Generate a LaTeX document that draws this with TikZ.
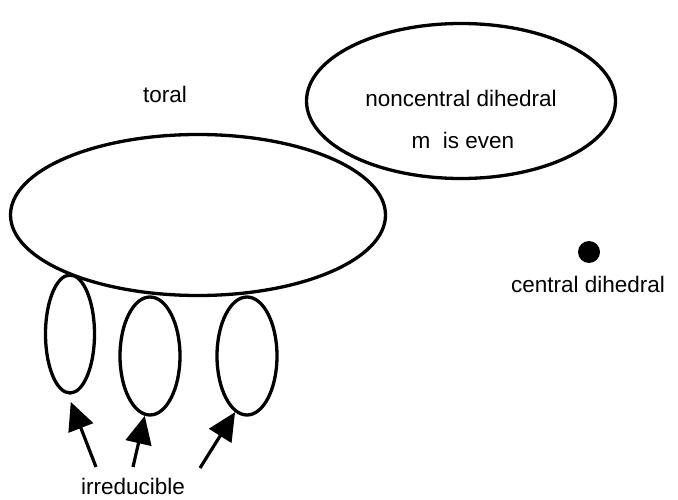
\documentclass[tikz,border=0pt]{standalone}
\usepackage{fontspec}
\setmainfont{Liberation Sans}
\usetikzlibrary{shapes.geometric,arrows.meta}
\begin{document}
\begin{tikzpicture}[x=1pt,y=-1pt,
  oval/.style={ellipse,draw,line width=3.3pt,inner sep=0pt},
  lbl/.style={font=\fontsize{22.5}{26}\selectfont,inner sep=0pt},
  pointer/.style={line width=3.2pt,-{Triangle[length=28pt,width=26pt]}}]
\useasboundingbox (0,0) rectangle (678,500);
\node[oval,minimum width=375pt,minimum height=161pt] (toral) at (198,215) {};
\node[oval,minimum width=309pt,minimum height=155pt] (nc) at (461,101) {};
\node[oval,minimum width=49pt,minimum height=118pt] (e1) at (70,334) {};
\node[oval,minimum width=60pt,minimum height=118pt] (e2) at (150,356) {};
\node[oval,minimum width=60pt,minimum height=118pt] (e3) at (247,356) {};
\node[circle,fill=black,minimum size=22pt,inner sep=0pt] (dot) at (589,252) {};
\node[lbl] (toraltxt) at (165,94) {toral};
\node[lbl] (nctxt) at (461,98) {noncentral dihedral};
\node[lbl] (mtxt) at (463,140) {m\ \ is even};
\node[lbl] (cd) at (588,284) {central dihedral};
\node[lbl] (irr) at (133,486) {irreducible};
\coordinate (a1) at (96,467);
\coordinate (a2) at (133,467);
\coordinate (a3) at (200,468);
\draw[pointer,shorten >=8pt] (a1) -- (e1.-92);
\draw[pointer] (a2) -- (e2.-95);
\draw[pointer] (a3) -- (e3.-102);
\end{tikzpicture}
\end{document}
